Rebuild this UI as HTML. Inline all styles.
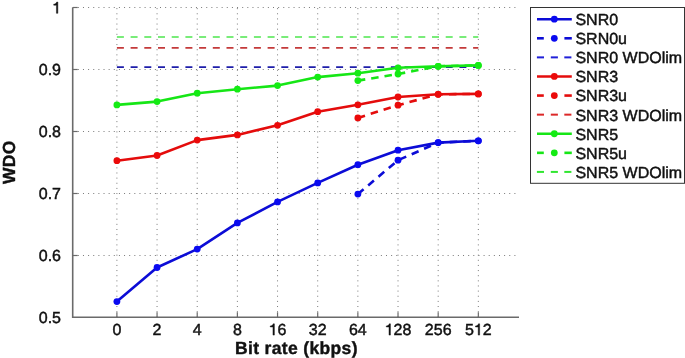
<!DOCTYPE html><html><head><meta charset="utf-8"><style>html,body{margin:0;padding:0;background:#fff;}svg{display:block;will-change:transform;}text{font-family:"Liberation Sans",sans-serif;text-rendering:geometricPrecision;}</style></head><body>
<svg width="685" height="358" viewBox="0 0 685 358">
<rect width="685" height="358" fill="#fff"/>
<line x1="116.90" y1="317.30" x2="116.90" y2="7.50" stroke="#7a7a7a" stroke-width="1" stroke-dasharray="1 4.136"/>
<line x1="157.06" y1="317.30" x2="157.06" y2="7.50" stroke="#7a7a7a" stroke-width="1" stroke-dasharray="1 4.136"/>
<line x1="197.22" y1="317.30" x2="197.22" y2="7.50" stroke="#7a7a7a" stroke-width="1" stroke-dasharray="1 4.136"/>
<line x1="237.38" y1="317.30" x2="237.38" y2="7.50" stroke="#7a7a7a" stroke-width="1" stroke-dasharray="1 4.136"/>
<line x1="277.54" y1="317.30" x2="277.54" y2="7.50" stroke="#7a7a7a" stroke-width="1" stroke-dasharray="1 4.136"/>
<line x1="317.70" y1="317.30" x2="317.70" y2="7.50" stroke="#7a7a7a" stroke-width="1" stroke-dasharray="1 4.136"/>
<line x1="357.86" y1="317.30" x2="357.86" y2="7.50" stroke="#7a7a7a" stroke-width="1" stroke-dasharray="1 4.136"/>
<line x1="398.02" y1="317.30" x2="398.02" y2="7.50" stroke="#7a7a7a" stroke-width="1" stroke-dasharray="1 4.136"/>
<line x1="438.18" y1="317.30" x2="438.18" y2="7.50" stroke="#7a7a7a" stroke-width="1" stroke-dasharray="1 4.136"/>
<line x1="478.34" y1="317.30" x2="478.34" y2="7.50" stroke="#7a7a7a" stroke-width="1" stroke-dasharray="1 4.136"/>
<line x1="72.70" y1="255.50" x2="519.00" y2="255.50" stroke="#7a7a7a" stroke-width="1" stroke-dasharray="1 4.136"/>
<line x1="72.70" y1="193.50" x2="519.00" y2="193.50" stroke="#7a7a7a" stroke-width="1" stroke-dasharray="1 4.136"/>
<line x1="72.70" y1="131.50" x2="519.00" y2="131.50" stroke="#7a7a7a" stroke-width="1" stroke-dasharray="1 4.136"/>
<line x1="72.70" y1="69.50" x2="519.00" y2="69.50" stroke="#7a7a7a" stroke-width="1" stroke-dasharray="1 4.136"/>
<line x1="72.70" y1="7.50" x2="519.00" y2="7.50" stroke="#7a7a7a" stroke-width="1" stroke-dasharray="1 4.136"/>
<path d="M72.70 7.50 V317.30 H519.00" fill="none" stroke="#6a6a6a" stroke-width="1.6"/>
<line x1="116.90" y1="317.30" x2="116.90" y2="312.30" stroke="#6a6a6a" stroke-width="1.2"/>
<line x1="157.06" y1="317.30" x2="157.06" y2="312.30" stroke="#6a6a6a" stroke-width="1.2"/>
<line x1="197.22" y1="317.30" x2="197.22" y2="312.30" stroke="#6a6a6a" stroke-width="1.2"/>
<line x1="237.38" y1="317.30" x2="237.38" y2="312.30" stroke="#6a6a6a" stroke-width="1.2"/>
<line x1="277.54" y1="317.30" x2="277.54" y2="312.30" stroke="#6a6a6a" stroke-width="1.2"/>
<line x1="317.70" y1="317.30" x2="317.70" y2="312.30" stroke="#6a6a6a" stroke-width="1.2"/>
<line x1="357.86" y1="317.30" x2="357.86" y2="312.30" stroke="#6a6a6a" stroke-width="1.2"/>
<line x1="398.02" y1="317.30" x2="398.02" y2="312.30" stroke="#6a6a6a" stroke-width="1.2"/>
<line x1="438.18" y1="317.30" x2="438.18" y2="312.30" stroke="#6a6a6a" stroke-width="1.2"/>
<line x1="478.34" y1="317.30" x2="478.34" y2="312.30" stroke="#6a6a6a" stroke-width="1.2"/>
<line x1="72.70" y1="255.50" x2="77.70" y2="255.50" stroke="#6a6a6a" stroke-width="1.2"/>
<line x1="72.70" y1="193.50" x2="77.70" y2="193.50" stroke="#6a6a6a" stroke-width="1.2"/>
<line x1="72.70" y1="131.50" x2="77.70" y2="131.50" stroke="#6a6a6a" stroke-width="1.2"/>
<line x1="72.70" y1="69.50" x2="77.70" y2="69.50" stroke="#6a6a6a" stroke-width="1.2"/>
<line x1="72.70" y1="7.50" x2="77.70" y2="7.50" stroke="#6a6a6a" stroke-width="1.2"/>
<text transform="translate(112.45,335.10) scale(1,1.0)" font-size="16" fill="#111" stroke="#111" stroke-width="0.45">0</text>
<text transform="translate(152.61,335.10) scale(1,1.0)" font-size="16" fill="#111" stroke="#111" stroke-width="0.45">2</text>
<text transform="translate(192.77,335.10) scale(1,1.0)" font-size="16" fill="#111" stroke="#111" stroke-width="0.45">4</text>
<text transform="translate(232.93,335.10) scale(1,1.0)" font-size="16" fill="#111" stroke="#111" stroke-width="0.45">8</text>
<path transform="translate(268.64,335.10) scale(0.01600,-0.01600)" d="M359 703L359 0L271 0L271 508L101 508L101 571C194 576 263 606 285 703Z" fill="#111" stroke="#111" stroke-width="28.12"/>
<text transform="translate(277.54,335.10) scale(1,1.0)" font-size="16" fill="#111" stroke="#111" stroke-width="0.45">6</text>
<text transform="translate(308.80,335.10) scale(1,1.0)" font-size="16" fill="#111" stroke="#111" stroke-width="0.45">3</text>
<text transform="translate(317.70,335.10) scale(1,1.0)" font-size="16" fill="#111" stroke="#111" stroke-width="0.45">2</text>
<text transform="translate(348.96,335.10) scale(1,1.0)" font-size="16" fill="#111" stroke="#111" stroke-width="0.45">6</text>
<text transform="translate(357.86,335.10) scale(1,1.0)" font-size="16" fill="#111" stroke="#111" stroke-width="0.45">4</text>
<path transform="translate(384.68,335.10) scale(0.01600,-0.01600)" d="M359 703L359 0L271 0L271 508L101 508L101 571C194 576 263 606 285 703Z" fill="#111" stroke="#111" stroke-width="28.12"/>
<text transform="translate(393.57,335.10) scale(1,1.0)" font-size="16" fill="#111" stroke="#111" stroke-width="0.45">2</text>
<text transform="translate(402.47,335.10) scale(1,1.0)" font-size="16" fill="#111" stroke="#111" stroke-width="0.45">8</text>
<text transform="translate(424.84,335.10) scale(1,1.0)" font-size="16" fill="#111" stroke="#111" stroke-width="0.45">2</text>
<text transform="translate(433.73,335.10) scale(1,1.0)" font-size="16" fill="#111" stroke="#111" stroke-width="0.45">5</text>
<text transform="translate(442.63,335.10) scale(1,1.0)" font-size="16" fill="#111" stroke="#111" stroke-width="0.45">6</text>
<text transform="translate(465.00,335.10) scale(1,1.0)" font-size="16" fill="#111" stroke="#111" stroke-width="0.45">5</text>
<path transform="translate(473.89,335.10) scale(0.01600,-0.01600)" d="M359 703L359 0L271 0L271 508L101 508L101 571C194 576 263 606 285 703Z" fill="#111" stroke="#111" stroke-width="28.12"/>
<text transform="translate(482.79,335.10) scale(1,1.0)" font-size="16" fill="#111" stroke="#111" stroke-width="0.45">2</text>
<text transform="translate(38.76,322.60) scale(1,1.0)" font-size="16" fill="#111" stroke="#111" stroke-width="0.45">0</text>
<text transform="translate(47.66,322.60) scale(1,1.0)" font-size="16" fill="#111" stroke="#111" stroke-width="0.45">.</text>
<text transform="translate(52.10,322.60) scale(1,1.0)" font-size="16" fill="#111" stroke="#111" stroke-width="0.45">5</text>
<text transform="translate(38.76,260.90) scale(1,1.0)" font-size="16" fill="#111" stroke="#111" stroke-width="0.45">0</text>
<text transform="translate(47.66,260.90) scale(1,1.0)" font-size="16" fill="#111" stroke="#111" stroke-width="0.45">.</text>
<text transform="translate(52.10,260.90) scale(1,1.0)" font-size="16" fill="#111" stroke="#111" stroke-width="0.45">6</text>
<text transform="translate(38.76,199.10) scale(1,1.0)" font-size="16" fill="#111" stroke="#111" stroke-width="0.45">0</text>
<text transform="translate(47.66,199.10) scale(1,1.0)" font-size="16" fill="#111" stroke="#111" stroke-width="0.45">.</text>
<text transform="translate(52.10,199.10) scale(1,1.0)" font-size="16" fill="#111" stroke="#111" stroke-width="0.45">7</text>
<text transform="translate(38.76,137.30) scale(1,1.0)" font-size="16" fill="#111" stroke="#111" stroke-width="0.45">0</text>
<text transform="translate(47.66,137.30) scale(1,1.0)" font-size="16" fill="#111" stroke="#111" stroke-width="0.45">.</text>
<text transform="translate(52.10,137.30) scale(1,1.0)" font-size="16" fill="#111" stroke="#111" stroke-width="0.45">8</text>
<text transform="translate(38.76,75.40) scale(1,1.0)" font-size="16" fill="#111" stroke="#111" stroke-width="0.45">0</text>
<text transform="translate(47.66,75.40) scale(1,1.0)" font-size="16" fill="#111" stroke="#111" stroke-width="0.45">.</text>
<text transform="translate(52.10,75.40) scale(1,1.0)" font-size="16" fill="#111" stroke="#111" stroke-width="0.45">9</text>
<path transform="translate(52.10,13.30) scale(0.01600,-0.01600)" d="M359 703L359 0L271 0L271 508L101 508L101 571C194 576 263 606 285 703Z" fill="#111" stroke="#111" stroke-width="28.12"/>
<text x="296.4" y="353.9" font-size="17.5" letter-spacing="0.35" font-weight="bold" text-anchor="middle" fill="#111" stroke="#111" stroke-width="0.4">Bit rate (kbps)</text>
<text transform="translate(15.1,162.2) rotate(-90)" x="0" y="0" font-size="17.5" letter-spacing="0.35" font-weight="bold" text-anchor="middle" fill="#111" stroke="#111" stroke-width="0.4">WDO</text>
<line x1="116.90" y1="67.2" x2="478.34" y2="67.2" stroke="#1e1eaa" stroke-width="1.7" stroke-dasharray="7 6.7"/>
<line x1="116.90" y1="47.8" x2="478.34" y2="47.8" stroke="#c43a3a" stroke-width="1.7" stroke-dasharray="7 6.7"/>
<line x1="116.90" y1="37.0" x2="478.34" y2="37.0" stroke="#4ee64e" stroke-width="1.7" stroke-dasharray="7 6.7"/>
<polyline points="116.90,301.60 157.06,267.50 197.22,249.10 237.38,222.90 277.54,201.90 317.70,182.90 357.86,164.70 398.02,150.20 438.18,142.60 478.34,140.80" fill="none" stroke="#0c0cd6" stroke-width="2.6" stroke-linejoin="round"/>
<circle cx="116.90" cy="301.60" r="3.4" fill="#0a0af0"/>
<circle cx="157.06" cy="267.50" r="3.4" fill="#0a0af0"/>
<circle cx="197.22" cy="249.10" r="3.4" fill="#0a0af0"/>
<circle cx="237.38" cy="222.90" r="3.4" fill="#0a0af0"/>
<circle cx="277.54" cy="201.90" r="3.4" fill="#0a0af0"/>
<circle cx="317.70" cy="182.90" r="3.4" fill="#0a0af0"/>
<circle cx="357.86" cy="164.70" r="3.4" fill="#0a0af0"/>
<circle cx="398.02" cy="150.20" r="3.4" fill="#0a0af0"/>
<circle cx="438.18" cy="142.60" r="3.4" fill="#0a0af0"/>
<circle cx="478.34" cy="140.80" r="3.4" fill="#0a0af0"/>
<polyline points="357.86,194.10 398.02,160.20 438.18,142.60 478.34,140.80" fill="none" stroke="#0c0cd6" stroke-width="2.6" stroke-linejoin="round" stroke-dasharray="7.5 6"/>
<circle cx="357.86" cy="194.10" r="3.4" fill="#0a0af0"/>
<circle cx="398.02" cy="160.20" r="3.4" fill="#0a0af0"/>
<circle cx="438.18" cy="142.60" r="3.4" fill="#0a0af0"/>
<circle cx="478.34" cy="140.80" r="3.4" fill="#0a0af0"/>
<polyline points="116.90,160.70 157.06,155.50 197.22,140.10 237.38,134.90 277.54,125.30 317.70,111.70 357.86,104.80 398.02,97.00 438.18,94.30 478.34,93.90" fill="none" stroke="#e40c0c" stroke-width="2.6" stroke-linejoin="round"/>
<circle cx="116.90" cy="160.70" r="3.4" fill="#eb0a0a"/>
<circle cx="157.06" cy="155.50" r="3.4" fill="#eb0a0a"/>
<circle cx="197.22" cy="140.10" r="3.4" fill="#eb0a0a"/>
<circle cx="237.38" cy="134.90" r="3.4" fill="#eb0a0a"/>
<circle cx="277.54" cy="125.30" r="3.4" fill="#eb0a0a"/>
<circle cx="317.70" cy="111.70" r="3.4" fill="#eb0a0a"/>
<circle cx="357.86" cy="104.80" r="3.4" fill="#eb0a0a"/>
<circle cx="398.02" cy="97.00" r="3.4" fill="#eb0a0a"/>
<circle cx="438.18" cy="94.30" r="3.4" fill="#eb0a0a"/>
<circle cx="478.34" cy="93.90" r="3.4" fill="#eb0a0a"/>
<polyline points="357.86,117.90 398.02,105.20 438.18,94.30 478.34,93.90" fill="none" stroke="#e40c0c" stroke-width="2.6" stroke-linejoin="round" stroke-dasharray="7.5 6"/>
<circle cx="357.86" cy="117.90" r="3.4" fill="#eb0a0a"/>
<circle cx="398.02" cy="105.20" r="3.4" fill="#eb0a0a"/>
<circle cx="438.18" cy="94.30" r="3.4" fill="#eb0a0a"/>
<circle cx="478.34" cy="93.90" r="3.4" fill="#eb0a0a"/>
<polyline points="116.90,104.90 157.06,101.60 197.22,93.20 237.38,89.20 277.54,85.60 317.70,77.10 357.86,73.20 398.02,67.80 438.18,66.30 478.34,65.40" fill="none" stroke="#16e616" stroke-width="2.6" stroke-linejoin="round"/>
<circle cx="116.90" cy="104.90" r="3.4" fill="#14eb14"/>
<circle cx="157.06" cy="101.60" r="3.4" fill="#14eb14"/>
<circle cx="197.22" cy="93.20" r="3.4" fill="#14eb14"/>
<circle cx="237.38" cy="89.20" r="3.4" fill="#14eb14"/>
<circle cx="277.54" cy="85.60" r="3.4" fill="#14eb14"/>
<circle cx="317.70" cy="77.10" r="3.4" fill="#14eb14"/>
<circle cx="357.86" cy="73.20" r="3.4" fill="#14eb14"/>
<circle cx="398.02" cy="67.80" r="3.4" fill="#14eb14"/>
<circle cx="438.18" cy="66.30" r="3.4" fill="#14eb14"/>
<circle cx="478.34" cy="65.40" r="3.4" fill="#14eb14"/>
<polyline points="357.86,80.60 398.02,74.00 438.18,66.30 478.34,65.40" fill="none" stroke="#16e616" stroke-width="2.6" stroke-linejoin="round" stroke-dasharray="7.5 6"/>
<circle cx="357.86" cy="80.60" r="3.4" fill="#14eb14"/>
<circle cx="398.02" cy="74.00" r="3.4" fill="#14eb14"/>
<circle cx="438.18" cy="66.30" r="3.4" fill="#14eb14"/>
<circle cx="478.34" cy="65.40" r="3.4" fill="#14eb14"/>
<rect x="530.5" y="7.5" width="154" height="175.8" fill="#fff" stroke="#333" stroke-width="1"/>
<line x1="537" y1="19.20" x2="571.8" y2="19.20" stroke="#0c0cd6" stroke-width="2.6"/>
<circle cx="554.3" cy="19.20" r="3.4" fill="#0a0af0"/>
<text transform="translate(575.4,25.10) scale(1,1.0)" font-size="16" fill="#111" stroke="#111" stroke-width="0.45">SNR0</text>
<line x1="537" y1="38.29" x2="543.8" y2="38.29" stroke="#0c0cd6" stroke-width="2.6"/>
<line x1="564.4" y1="38.29" x2="571.8" y2="38.29" stroke="#0c0cd6" stroke-width="2.6"/>
<circle cx="554.3" cy="38.29" r="3.4" fill="#0a0af0"/>
<text transform="translate(575.4,44.19) scale(1,1.0)" font-size="16" fill="#111" stroke="#111" stroke-width="0.45">SRN0u</text>
<line x1="536.9" y1="57.38" x2="544.0" y2="57.38" stroke="#2020d8" stroke-width="2"/>
<line x1="550.8" y1="57.38" x2="557.9" y2="57.38" stroke="#2020d8" stroke-width="2"/>
<line x1="564.3" y1="57.38" x2="571.4" y2="57.38" stroke="#2020d8" stroke-width="2"/>
<text transform="translate(575.4,63.28) scale(1,1.0)" font-size="16" fill="#111" stroke="#111" stroke-width="0.45">SNR0 WDOlim</text>
<line x1="537" y1="76.47" x2="571.8" y2="76.47" stroke="#e40c0c" stroke-width="2.6"/>
<circle cx="554.3" cy="76.47" r="3.4" fill="#eb0a0a"/>
<text transform="translate(575.4,82.37) scale(1,1.0)" font-size="16" fill="#111" stroke="#111" stroke-width="0.45">SNR3</text>
<line x1="537" y1="95.56" x2="543.8" y2="95.56" stroke="#e40c0c" stroke-width="2.6"/>
<line x1="564.4" y1="95.56" x2="571.8" y2="95.56" stroke="#e40c0c" stroke-width="2.6"/>
<circle cx="554.3" cy="95.56" r="3.4" fill="#eb0a0a"/>
<text transform="translate(575.4,101.46) scale(1,1.0)" font-size="16" fill="#111" stroke="#111" stroke-width="0.45">SNR3u</text>
<line x1="536.9" y1="114.65" x2="544.0" y2="114.65" stroke="#dc2828" stroke-width="2"/>
<line x1="550.8" y1="114.65" x2="557.9" y2="114.65" stroke="#dc2828" stroke-width="2"/>
<line x1="564.3" y1="114.65" x2="571.4" y2="114.65" stroke="#dc2828" stroke-width="2"/>
<text transform="translate(575.4,120.55) scale(1,1.0)" font-size="16" fill="#111" stroke="#111" stroke-width="0.45">SNR3 WDOlim</text>
<line x1="537" y1="133.74" x2="571.8" y2="133.74" stroke="#16e616" stroke-width="2.6"/>
<circle cx="554.3" cy="133.74" r="3.4" fill="#14eb14"/>
<text transform="translate(575.4,139.64) scale(1,1.0)" font-size="16" fill="#111" stroke="#111" stroke-width="0.45">SNR5</text>
<line x1="537" y1="152.83" x2="543.8" y2="152.83" stroke="#16e616" stroke-width="2.6"/>
<line x1="564.4" y1="152.83" x2="571.8" y2="152.83" stroke="#16e616" stroke-width="2.6"/>
<circle cx="554.3" cy="152.83" r="3.4" fill="#14eb14"/>
<text transform="translate(575.4,158.73) scale(1,1.0)" font-size="16" fill="#111" stroke="#111" stroke-width="0.45">SNR5u</text>
<line x1="536.9" y1="171.92" x2="544.0" y2="171.92" stroke="#30e630" stroke-width="2"/>
<line x1="550.8" y1="171.92" x2="557.9" y2="171.92" stroke="#30e630" stroke-width="2"/>
<line x1="564.3" y1="171.92" x2="571.4" y2="171.92" stroke="#30e630" stroke-width="2"/>
<text transform="translate(575.4,177.82) scale(1,1.0)" font-size="16" fill="#111" stroke="#111" stroke-width="0.45">SNR5 WDOlim</text>
</svg></body></html>
